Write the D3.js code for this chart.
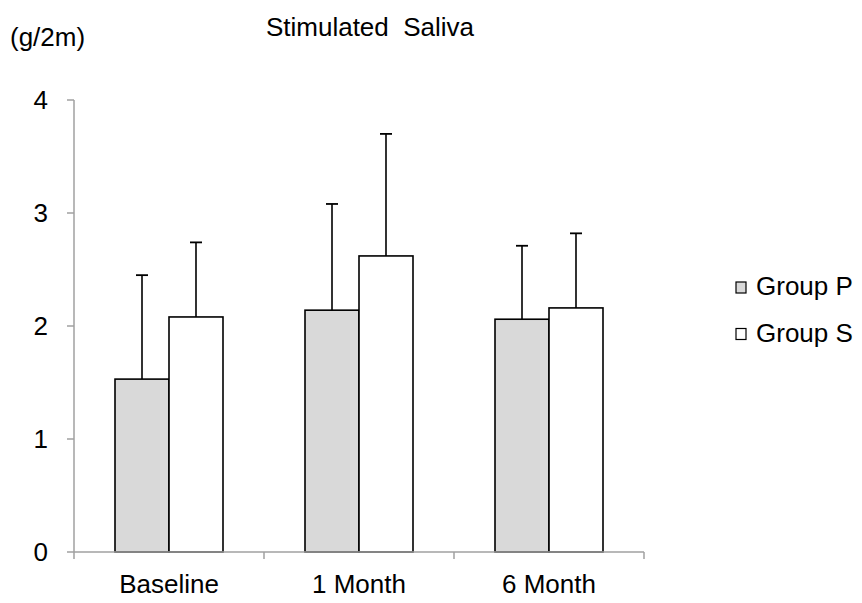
<!DOCTYPE html>
<html>
<head>
<meta charset="utf-8">
<script src="https://cdnjs.cloudflare.com/ajax/libs/d3/7.8.5/d3.min.js"></script>
<style>
  body { margin: 0; background: #fff; }
  text { font-family: "Liberation Sans", Arial, sans-serif; fill: #000; }
</style>
</head>
<body>
<div id="vis"></div>
<script>
// chart data
var categories = ["Baseline", "1 Month", "6 Month"];
var groups = ["Group P", "Group S"];
var groupP = [1.53, 2.14, 2.06];
var groupS = [2.08, 2.62, 2.16];
var errP = [0.92, 0.94, 0.65];
var errS = [0.66, 1.08, 0.66];
var yTicks = [0, 1, 2, 3, 4];

function drawChart()
{
    var width = 862, height = 603;
    var plotLeft = 74, plotRight = 644, plotTop = 100, plotBottom = 552;
    var fontSize = "26px";

    var svg = d3.select("#vis").append("svg")
        .attr("width", width)
        .attr("height", height);

    var x = d3.scaleBand()
        .domain(categories)
        .range([plotLeft, plotRight])
        .paddingInner(0.4316)
        .paddingOuter(0.2158);

    var xInner = d3.scaleBand()
        .domain(groups)
        .range([0, x.bandwidth()]);

    var y = d3.scaleLinear()
        .domain([0, 4])
        .range([plotBottom, plotTop]);

    var fills = { "Group P": "#d9d9d9", "Group S": "#ffffff" };

    // one row per bar
    var rows = [];
    categories.forEach(function(c, i) {
        rows.push({ cat: c, group: "Group P", v: groupP[i], e: errP[i] });
        rows.push({ cat: c, group: "Group S", v: groupS[i], e: errS[i] });
    });

    // y axis (gray)
    var axisColor = "#a0a0a0";
    svg.append("line")
        .attr("x1", plotLeft).attr("x2", plotLeft)
        .attr("y1", y(4)).attr("y2", y(0))
        .attr("stroke", axisColor).attr("stroke-width", 1.5);

    svg.selectAll(".ytick").data(yTicks).enter().append("line")
        .attr("x1", plotLeft - 7).attr("x2", plotLeft)
        .attr("y1", function(d) { return y(d); })
        .attr("y2", function(d) { return y(d); })
        .attr("stroke", axisColor).attr("stroke-width", 1.5);

    svg.selectAll(".ylab").data(yTicks).enter().append("text")
        .attr("x", 48)
        .attr("y", function(d) { return y(d) + 9; })
        .attr("text-anchor", "end")
        .style("font-size", fontSize)
        .text(function(d) { return d; });

    // bars
    svg.selectAll(".bar").data(rows).enter().append("rect")
        .attr("x", function(d) { return x(d.cat) + xInner(d.group); })
        .attr("y", function(d) { return y(d.v); })
        .attr("width", xInner.bandwidth())
        .attr("height", function(d) { return y(0) - y(d.v); })
        .attr("fill", function(d) { return fills[d.group]; })
        .attr("stroke", "#000")
        .attr("stroke-width", 1.6);

    // error bars, upward only
    var cap = 6;
    function cx(d) { return x(d.cat) + xInner(d.group) + xInner.bandwidth() / 2; }
    svg.selectAll(".err").data(rows).enter().append("line")
        .attr("x1", cx).attr("x2", cx)
        .attr("y1", function(d) { return y(d.v); })
        .attr("y2", function(d) { return y(d.v + d.e); })
        .attr("stroke", "#000").attr("stroke-width", 1.6);
    svg.selectAll(".cap").data(rows).enter().append("line")
        .attr("x1", function(d) { return cx(d) - cap; })
        .attr("x2", function(d) { return cx(d) + cap; })
        .attr("y1", function(d) { return y(d.v + d.e); })
        .attr("y2", function(d) { return y(d.v + d.e); })
        .attr("stroke", "#000").attr("stroke-width", 1.8);

    // x axis
    svg.append("line")
        .attr("x1", plotLeft).attr("x2", plotRight)
        .attr("y1", plotBottom).attr("y2", plotBottom)
        .attr("stroke", axisColor).attr("stroke-width", 1.5);

    var bounds = categories.map(function(c) { return x(c) - x.step() * x.paddingInner() / 2; });
    bounds.push(plotRight);
    svg.selectAll(".xtick").data(bounds).enter().append("line")
        .attr("x1", function(d) { return d; })
        .attr("x2", function(d) { return d; })
        .attr("y1", plotBottom).attr("y2", plotBottom + 7)
        .attr("stroke", axisColor).attr("stroke-width", 1.5);

    svg.selectAll(".xlab").data(categories).enter().append("text")
        .attr("x", function(d) { return x(d) + x.bandwidth() / 2; })
        .attr("y", 593)
        .attr("text-anchor", "middle")
        .style("font-size", fontSize)
        .text(function(d) { return d; });

    // title and unit
    svg.append("text")
        .attr("x", 370).attr("y", 36)
        .attr("text-anchor", "middle")
        .style("font-size", fontSize)
        .style("white-space", "pre")
        .text("Stimulated  Saliva");

    svg.append("text")
        .attr("x", 10).attr("y", 46)
        .style("font-size", fontSize)
        .text("(g/2m)");

    // legend
    var legend = svg.selectAll(".leg").data(groups).enter().append("g")
        .attr("transform", function(d, i) { return "translate(736," + (282 + i * 46.5) + ")"; });
    legend.append("rect")
        .attr("width", 10).attr("height", 11)
        .attr("fill", function(d) { return fills[d]; })
        .attr("stroke", "#000").attr("stroke-width", 1.2);
    legend.append("text")
        .attr("x", 20).attr("y", 13)
        .style("font-size", fontSize)
        .text(function(d) { return d; });
}

drawChart();
</script>
</body>
</html>
